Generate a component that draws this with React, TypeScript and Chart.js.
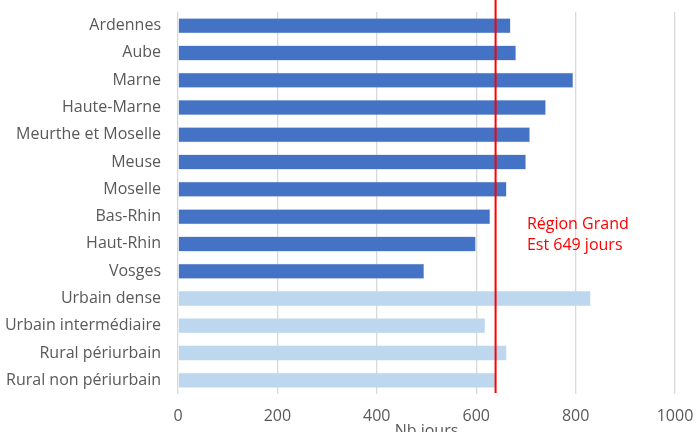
import React, { useEffect, useRef } from "react";
import { Chart, registerables } from "chart.js";

Chart.register(...registerables);

const categories = [
  "Ardennes",
  "Aube",
  "Marne",
  "Haute-Marne",
  "Meurthe et Moselle",
  "Meuse",
  "Moselle",
  "Bas-Rhin",
  "Haut-Rhin",
  "Vosges",
  "Urbain dense",
  "Urbain intermédiaire",
  "Rural périurbain",
  "Rural non périurbain",
];
const nbJours = [669, 680, 795, 740, 708, 700, 661, 628, 599, 495, 830, 618, 661, 639];
const groups = ["dep", "dep", "dep", "dep", "dep", "dep", "dep", "dep", "dep", "dep", "zone", "zone", "zone", "zone"];
const regionValue = 639;
const regionLabel = ["Région Grand", "Est 649 jours"];
const xTicks = [0, 200, 400, 600, 800, 1000];
const axisTitle = "Nb jours";

const FONT = "'Open Sans', sans-serif";

const refLinePlugin = {
  id: "refLine",
  afterDatasetsDraw(chart: any) {
    const { ctx, chartArea, scales } = chart;
    const x = scales.x.getPixelForValue(regionValue);
    ctx.save();
    ctx.strokeStyle = "#FF0000";
    ctx.lineWidth = 2;
    ctx.beginPath();
    ctx.moveTo(x, 0);
    ctx.lineTo(x, chartArea.bottom - 1);
    ctx.stroke();
    ctx.fillStyle = "#FF0000";
    ctx.font = `16px ${FONT}`;
    ctx.textAlign = "left";
    ctx.textBaseline = "middle";
    const tx = scales.x.getPixelForValue(702);
    regionLabel.forEach((l, i) => {
      ctx.fillText(l, tx, chartArea.top + 212 + i * 21);
    });
    ctx.restore();
  },
};

export default function App() {
  const ref = useRef<HTMLCanvasElement>(null);
  useEffect(() => {
    document.body.style.margin = "0";
    const chart = new Chart(ref.current!, {
      type: "bar",
      data: {
        labels: categories,
        datasets: [
          {
            data: nbJours,
            backgroundColor: groups.map((g) => (g === "dep" ? "#4472C4" : "#BDD7EE")),
            borderColor: groups.map((g) => (g === "dep" ? "#8FAADC" : "#BDD7EE")),
            borderWidth: 0.5,
            barPercentage: 0.55,
            categoryPercentage: 1,
          },
        ],
      },
      options: {
        indexAxis: "y",
        animation: false,
        responsive: false,
        maintainAspectRatio: false,
        layout: { padding: { top: 12, right: 21, left: 0, bottom: 0 } },
        plugins: { legend: { display: false }, tooltip: { enabled: false } },
        scales: {
          x: {
            min: 0,
            max: 1000,
            afterBuildTicks: (s: any) => {
              s.ticks = xTicks.map((v) => ({ value: v }));
            },
            grid: { color: "#D9D9D9", lineWidth: 1.3, drawTicks: false },
            border: { display: false },
            ticks: {
              color: "#595959",
              font: { family: FONT, size: 16 },
              padding: 13,
              callback: (v: any) => String(v),
            },
            title: {
              display: true,
              text: axisTitle,
              color: "#595959",
              font: { family: FONT, size: 16 },
              padding: { top: 0, bottom: 3 },
            },
            afterFit: (s: any) => {
              s.height = 50;
              s.paddingLeft = 0;
              s.paddingRight = 0;
            },
          },
          y: {
            grid: { display: false, drawTicks: false },
            border: { display: false },
            ticks: { color: "#595959", font: { family: FONT, size: 16 }, padding: 17 },
            afterFit: (s: any) => {
              s.width = 178;
              s.paddingTop = 0;
              s.paddingBottom = 0;
            },
          },
        },
      },
      plugins: [refLinePlugin],
    });
    return () => chart.destroy();
  }, []);
  return (
    <div style={{ position: "fixed", left: 0, top: 0, width: 696, height: 444 }}>
      <canvas ref={ref} width={696} height={444} style={{ width: 696, height: 444 }} />
    </div>
  );
}
